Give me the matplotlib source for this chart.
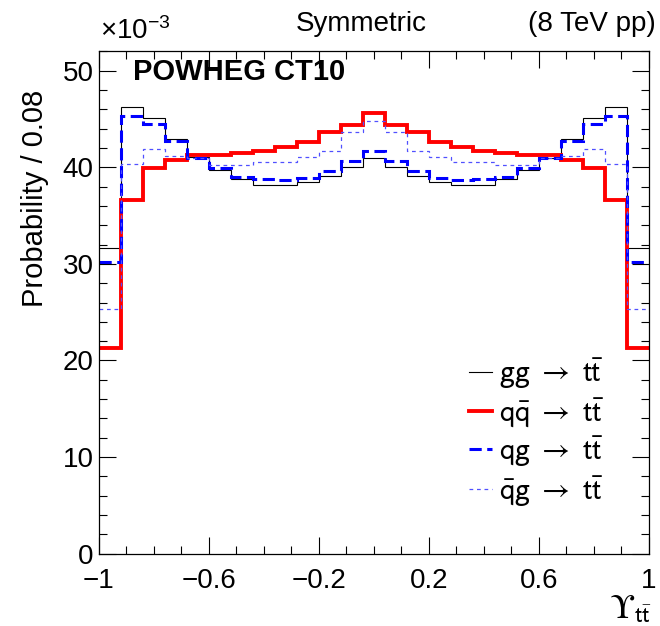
import numpy as np
import matplotlib
matplotlib.use("Agg")
import matplotlib.pyplot as plt
from matplotlib.ticker import MultipleLocator, FixedLocator

plt.rcParams['font.family'] = ['Liberation Sans', 'DejaVu Sans']
plt.rcParams['mathtext.fontset'] = 'custom'
plt.rcParams['mathtext.rm'] = 'Liberation Sans'
plt.rcParams['mathtext.sf'] = 'Liberation Sans'
plt.rcParams['mathtext.it'] = 'Liberation Sans:italic'

# ---- data (Probability per bin, in units of 1e-3) ----
x_min = -1.0
bin_width = 0.08
n_bins = 25

gg = [31.6, 46.2, 45.1, 42.9, 41.1, 39.7, 38.8, 38.2, 38.2, 38.5, 39.1, 40.0, 41.0,
      40.0, 39.1, 38.5, 38.2, 38.2, 38.8, 39.7, 41.0, 42.9, 45.1, 46.2, 31.6]
qqbar = [21.3, 36.6, 39.9, 40.8, 41.3, 41.3, 41.5, 41.7, 42.1, 42.6, 43.6, 44.4, 45.6,
         44.4, 43.6, 42.6, 42.1, 41.7, 41.5, 41.3, 41.3, 40.8, 39.9, 36.6, 21.3]
qg = [30.2, 45.3, 44.5, 42.7, 41.0, 39.9, 39.0, 38.8, 38.7, 38.9, 39.6, 40.6, 41.7,
      40.6, 39.6, 38.9, 38.7, 38.8, 39.0, 39.9, 41.0, 42.7, 44.5, 45.3, 30.2]
qbarg = [25.3, 40.3, 41.9, 41.2, 41.0, 40.25, 40.25, 40.55, 40.55, 41.1, 41.7, 43.7, 44.75,
         43.7, 41.7, 41.1, 40.55, 40.55, 40.25, 40.25, 41.0, 41.2, 41.9, 40.3, 25.3]

labels = [r'$\mathrm{gg\ \rightarrow\ t\bar{t}}$',
          r'$\mathrm{q\bar{q}\ \rightarrow\ t\bar{t}}$',
          r'$\mathrm{qg\ \rightarrow\ t\bar{t}}$',
          r'$\mathrm{\bar{q}g\ \rightarrow\ t\bar{t}}$']
xticks_major = [-1, -0.6, -0.2, 0.2, 0.6, 1]
xtick_labels = ['\u22121', '\u22120.6', '\u22120.2', '0.2', '0.6', '1']

edges = x_min + bin_width * np.arange(n_bins + 1)

fig = plt.figure(figsize=(6.6, 6.26), dpi=100)
ax = fig.add_axes([0.15, 0.1155, 0.8333, 0.8025])

ax.stairs(gg, edges, baseline=None, color='black', lw=0.8, label=labels[0])
ax.stairs(qqbar, edges, baseline=None, color='#ff0000', lw=2.8, label=labels[1])
ax.stairs(qg, edges, baseline=None, color='#0000ff', lw=2.2,
          linestyle=(0, (4, 1.8)), label=labels[2])
ax.stairs(qbarg, edges, baseline=None, color='#5050ff', lw=0.9,
          linestyle=(0, (3, 3)), label=labels[3])

ax.set_xlim(-1, 1)
ax.set_ylim(0, 52)

ax.xaxis.set_major_locator(FixedLocator(xticks_major))
ax.set_xticklabels(xtick_labels)
ax.xaxis.set_minor_locator(MultipleLocator(0.1))
ax.yaxis.set_major_locator(MultipleLocator(10))
ax.yaxis.set_minor_locator(MultipleLocator(2))
ax.tick_params(which='both', direction='in', top=True, right=True, width=0.8,
               labelsize=20)
ax.tick_params(which='major', length=12)
ax.tick_params(which='minor', length=6)
ax.tick_params(axis='x', pad=10)
ax.tick_params(axis='y', pad=4)
for s in ax.spines.values():
    s.set_linewidth(0.9)

fig.text(0.053, 0.856, 'Probability / 0.08', rotation=90, ha='center', va='top',
         fontsize=21)
fig.text(0.988, 0.013, '$\\mathrm{\u03d2}_{\\mathrm{t\\bar{t}}}$', ha='right',
         va='baseline', fontsize=25, math_fontfamily='stixsans')
fig.text(0.152, 0.938, r'$\times$10$^{-3}$', ha='left', va='baseline', fontsize=20)
fig.text(0.548, 0.950, 'Symmetric', ha='center', va='baseline', fontsize=20)
fig.text(0.993, 0.950, '(8 TeV pp)', ha='right', va='baseline', fontsize=20)
ax.text(0.062, 49.9, 'POWHEG CT10', transform=ax.get_yaxis_transform(),
        ha='left', va='center', fontsize=21, fontweight='bold')

leg = ax.legend(loc='upper left', bbox_to_anchor=(0.673, 0.392), frameon=False,
                fontsize=22, handlelength=0.75, handletextpad=0.22,
                labelspacing=0.16, borderpad=0, borderaxespad=0)
for t in leg.get_texts():
    t.set_math_fontfamily('stixsans')

fig.savefig('out.png', dpi=100)
